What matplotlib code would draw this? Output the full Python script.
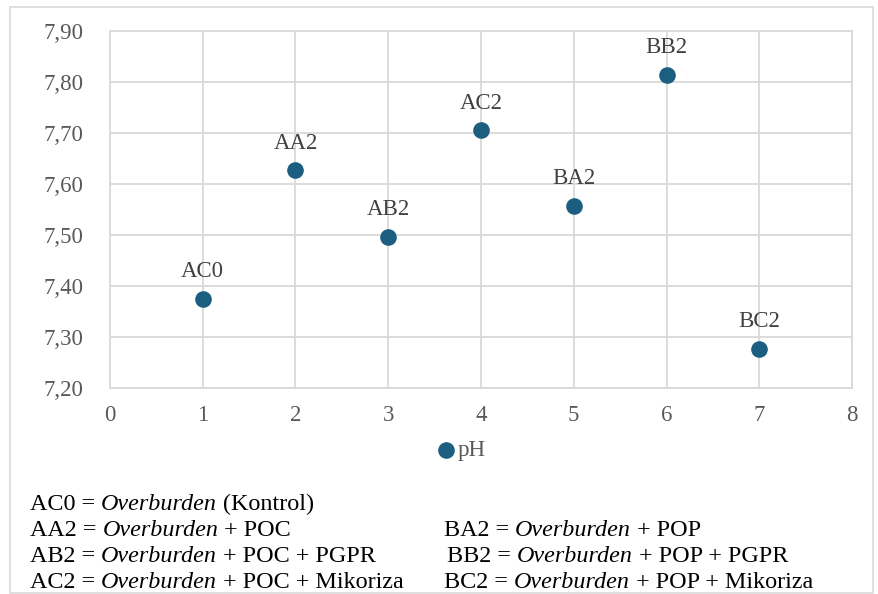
import matplotlib.pyplot as plt
from matplotlib.patches import Rectangle
from matplotlib.ticker import FuncFormatter, MultipleLocator

plt.rcParams["font.family"] = ["Liberation Serif", "DejaVu Serif"]

# treatment codes, position on the x axis and measured soil pH
treatments = ["AC0", "AA2", "AB2", "AC2", "BA2", "BB2", "BC2"]
positions = [1, 2, 3, 4, 5, 6, 7]
ph_values = [7.375, 7.627, 7.497, 7.705, 7.557, 7.814, 7.277]

# key lines printed under the chart: left column and right column
key_left = [
    [("AC0 = ", "normal"), ("Overburden", "italic"), (" (Kontrol)", "normal")],
    [("AA2 = ", "normal"), ("Overburden", "italic"), (" + POC", "normal")],
    [("AB2 = ", "normal"), ("Overburden", "italic"), (" + POC + PGPR", "normal")],
    [("AC2 = ", "normal"), ("Overburden", "italic"), (" + POC + Mikoriza", "normal")],
]
key_right = [
    None,
    [("BA2 = ", "normal"), ("Overburden", "italic"), (" + POP", "normal")],
    [("BB2 = ", "normal"), ("Overburden", "italic"), (" + POP + PGPR", "normal")],
    [("BC2 = ", "normal"), ("Overburden", "italic"), (" + POP + Mikoriza", "normal")],
]

POINT_COLOR = "#1b5e80"
GRID_COLOR = "#d9d9d9"
TEXT_GRAY = "#595959"
LABEL_SIZE = 16.5
KEY_SIZE = 17.4

fig = plt.figure(figsize=(8.79, 5.94), dpi=100)
ax = fig.add_axes([0.1251, 0.3468, 0.9693 - 0.1251, 0.9478 - 0.3468])

# light frame around the whole chart area
fig.patches.append(Rectangle((10 / 879, 0.002), 863 / 879, 1 - 7 / 594 - 0.002,
                             transform=fig.transFigure, fill=False,
                             edgecolor=GRID_COLOR, linewidth=1.2))

ax.scatter(positions, ph_values, s=120, color=POINT_COLOR, zorder=3, label="pH")
for name, x, y in zip(treatments, positions, ph_values):
    ax.annotate(name, (x, y), xytext=(0, 12), textcoords="offset points",
                ha="center", va="bottom", fontsize=LABEL_SIZE, color="#404040")

ax.set_xlim(0, 8)
ax.set_ylim(7.2, 7.9)
ax.xaxis.set_major_locator(MultipleLocator(1))
ax.yaxis.set_major_locator(MultipleLocator(0.1))
ax.yaxis.set_major_formatter(FuncFormatter(lambda v, _: f"{v:.2f}".replace(".", ",")))
ax.grid(True, color=GRID_COLOR, linewidth=1.3)
ax.set_axisbelow(True)
for side in ax.spines.values():
    side.set_color(GRID_COLOR)
    side.set_linewidth(1.3)
ax.tick_params(length=0, labelsize=LABEL_SIZE, labelcolor=TEXT_GRAY)
ax.tick_params(axis="y", pad=19)
ax.tick_params(axis="x", pad=12)

fig.legend(loc="center", bbox_to_anchor=(459 / 879, 1 - 450 / 594), frameon=False,
           fontsize=LABEL_SIZE, labelcolor=TEXT_GRAY, handletextpad=-0.1,
           handlelength=1.2, markerscale=1.0)


def chain_line(parts, x, y):
    # each piece is anchored to the right end of the previous one
    first, style = parts[0]
    prev = fig.text(x, y, first, fontsize=KEY_SIZE, style=style, va="baseline")
    for piece, style in parts[1:]:
        prev = ax.annotate(piece, xy=(1, 0), xycoords=prev, va="bottom",
                           fontsize=KEY_SIZE, style=style, annotation_clip=False)
    return prev


line_y = [510, 536, 562, 588]
right_x = [None, 444, 447, 444]
for row, y in enumerate(line_y):
    chain_line(key_left[row], 30 / 879, 1 - y / 594)
    if key_right[row] is not None:
        chain_line(key_right[row], right_x[row] / 879, 1 - y / 594)

fig.savefig("out.png", dpi=100)
